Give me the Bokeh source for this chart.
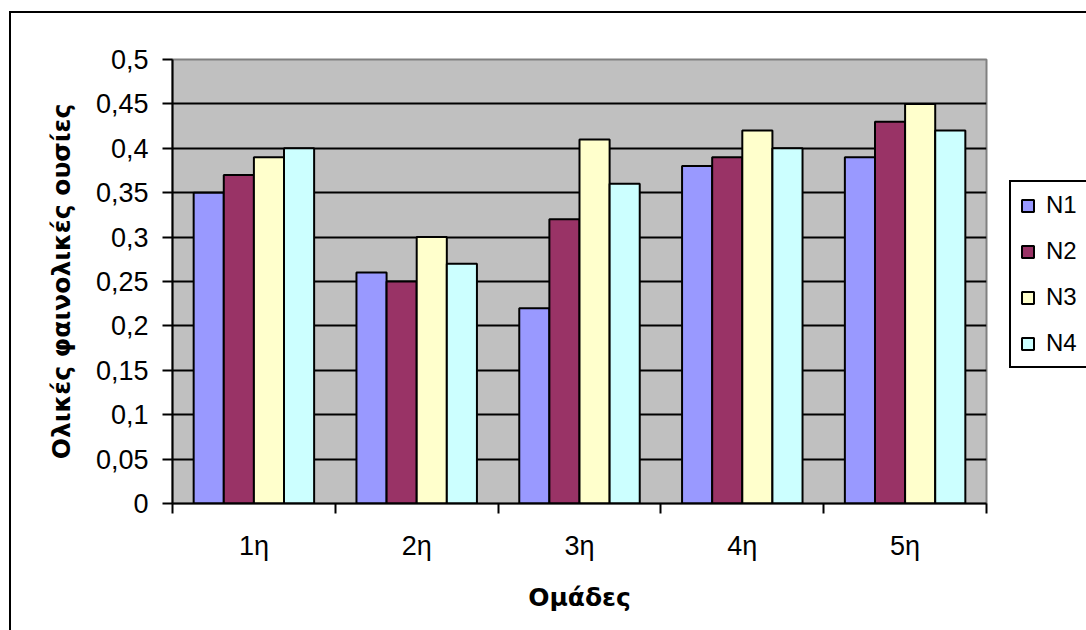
from bokeh.plotting import figure
from bokeh.models import ColumnDataSource, Range1d, FixedTicker, Legend, LegendItem
from bokeh.transform import dodge
from bokeh.embed import file_html
from bokeh.resources import INLINE

groups = ["1η", "2η", "3η", "4η", "5η"]
series = ["N1", "N2", "N3", "N4"]
n1 = [0.35, 0.26, 0.22, 0.38, 0.39]
n2 = [0.37, 0.25, 0.32, 0.39, 0.43]
n3 = [0.39, 0.30, 0.41, 0.42, 0.45]
n4 = [0.40, 0.27, 0.36, 0.40, 0.42]
colors = ["#9999FF", "#993366", "#FFFFCC", "#CCFFFF"]
y_ticks = [0, 0.05, 0.1, 0.15, 0.2, 0.25, 0.3, 0.35, 0.4, 0.45, 0.5]
y_tick_labels = ["0", "0,05", "0,1", "0,15", "0,2", "0,25", "0,3", "0,35", "0,4", "0,45", "0,5"]
x_title = "Ομάδες"
y_title = "Ολικές φαινολικές ουσίες"

centers = [i + 0.5 for i in range(len(groups))]
bounds = [i for i in range(len(groups) + 1)]
source = ColumnDataSource(dict(x=centers, N1=n1, N2=n2, N3=n3, N4=n4))

p = figure(frame_width=814, frame_height=444, x_range=Range1d(0, len(groups)), y_range=Range1d(0, 0.5),
           output_backend="svg", toolbar_location=None,
           min_border_left=161, min_border_top=46, min_border_right=100, min_border_bottom=127)
p.margin = (11, 0, 0, 9)
p.styles = {"border-left": "2px solid black", "border-top": "2px solid black"}
p.background_fill_color = "#C0C0C0"
p.border_fill_color = "white"
p.outline_line_color = "#808080"
p.outline_line_width = 2

bw = 0.185
offsets = [-1.5 * bw, -0.5 * bw, 0.5 * bw, 1.5 * bw]
items = []
for name, off, col in zip(series, offsets, colors):
    r = p.vbar(x=dodge("x", off), top=name, width=bw, bottom=0, source=source,
               fill_color=col, line_color="black", line_width=2)
    items.append(LegendItem(label=name, renderers=[r]))

# axes
xa = p.xaxis[0]
xa.ticker = FixedTicker(ticks=centers, minor_ticks=bounds)
xa.major_label_overrides = {c: g for c, g in zip(centers, groups)}
xa.major_tick_out = 0
xa.major_tick_in = 0
xa.minor_tick_out = 10
xa.minor_tick_in = 0
xa.minor_tick_line_color = "black"
xa.minor_tick_line_width = 2
xa.axis_line_color = "black"
xa.axis_line_width = 2
xa.major_label_text_font = "Liberation Sans"
xa.major_label_text_font_size = "27px"
xa.major_label_text_color = "black"
xa.major_label_standoff = 17
xa.axis_label = x_title
xa.axis_label_text_font = "DejaVu Sans"
xa.axis_label_text_font_style = "bold"
xa.axis_label_text_font_size = "25px"
xa.axis_label_text_color = "black"
xa.axis_label_standoff = 19

ya = p.yaxis[0]
ya.ticker = FixedTicker(ticks=y_ticks, minor_ticks=[])
ya.major_label_overrides = {t: l for t, l in zip(y_ticks, y_tick_labels)}
ya.major_tick_out = 10
ya.major_tick_in = 0
ya.major_tick_line_color = "black"
ya.major_tick_line_width = 2
ya.minor_tick_out = 0
ya.minor_tick_in = 0
ya.axis_line_color = "black"
ya.axis_line_width = 2
ya.major_label_text_font = "Liberation Sans"
ya.major_label_text_font_size = "27px"
ya.major_label_text_color = "black"
ya.major_label_standoff = 14
ya.axis_label = y_title
ya.axis_label_text_font = "DejaVu Sans"
ya.axis_label_text_font_style = "bold"
ya.axis_label_text_font_size = "25px"
ya.axis_label_text_color = "black"
ya.axis_label_standoff = 17

p.xgrid.visible = False
p.ygrid.ticker = FixedTicker(ticks=y_ticks[1:-1])
p.ygrid.grid_line_color = "black"
p.ygrid.grid_line_width = 2

legend = Legend(items=items, location=(23, 135), orientation="vertical")
legend.border_line_color = "black"
legend.border_line_width = 2
legend.border_line_alpha = 1
legend.background_fill_color = "white"
legend.background_fill_alpha = 1
legend.label_text_font = "Liberation Sans"
legend.label_text_font_size = "24px"
legend.label_text_color = "black"
legend.glyph_width = 15
legend.glyph_height = 15
legend.label_standoff = 11
legend.label_height = 24
legend.spacing = 18
legend.padding = 9
legend.margin = 0
p.add_layout(legend, "right")

open("out.html", "w").write(file_html(p, INLINE))
